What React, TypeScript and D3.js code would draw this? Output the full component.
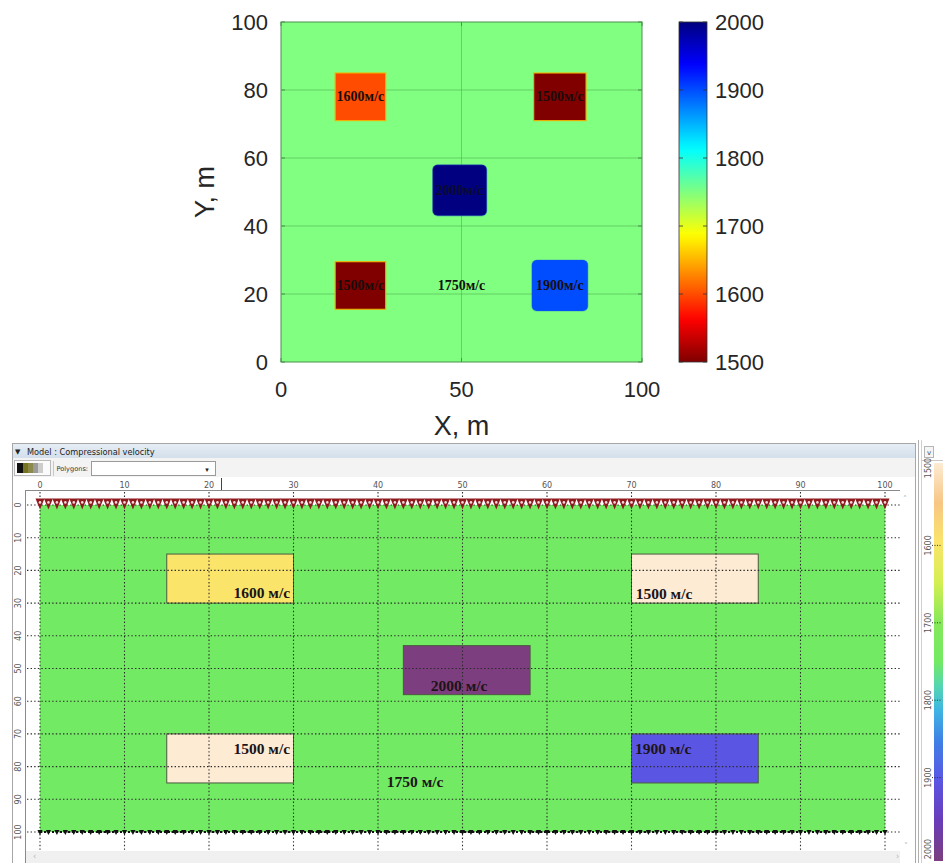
import React from "react";
import * as d3 from "d3";

// ---- shared velocity range (m/s) ----
const VEL_MIN = 1500;
const VEL_MAX = 2000;
const velocityTicks = [1500, 1600, 1700, 1800, 1900, 2000];
const backgroundVelocity = 1750;

// ---- plan-view model (x, y in metres) ----
const mapTicks = [0, 50, 100];
const mapGridY = [20, 40, 60, 80];
const mapBlocks = [
  { v: 1600, x0: 15, x1: 29, y0: 71, y1: 85 },
  { v: 1500, x0: 70, x1: 84.5, y0: 71, y1: 85 },
  { v: 2000, x0: 42, x1: 57, y0: 43, y1: 58 },
  { v: 1500, x0: 15, x1: 29, y0: 15.5, y1: 29.5 },
  { v: 1900, x0: 69.5, x1: 85, y0: 15, y1: 30 },
];
const roundedVelocities = [1900, 2000];
const mapBackgroundLabel = { x: 50, y: 22.5 };

// ---- section model (x, depth in metres) ----
const sectionTicks = [0, 10, 20, 30, 40, 50, 60, 70, 80, 90, 100];
const sectionBlocks = [
  { v: 1600, x0: 15, x1: 30, z0: 15, z1: 30 },
  { v: 1500, x0: 70, x1: 85, z0: 15, z1: 30 },
  { v: 2000, x0: 43, x1: 58, z0: 43, z1: 58 },
  { v: 1500, x0: 15, x1: 30, z0: 70, z1: 85 },
  { v: 1900, x0: 70, x1: 85, z0: 70, z1: 85 },
];
const sectionLabels = [
  { v: 1600, x: 29.6, z: 26.8, anchor: "end" },
  { v: 1500, x: 70.5, z: 27.2, anchor: "start" },
  { v: 2000, x: 49.6, z: 55.3, anchor: "middle" },
  { v: 1500, x: 29.6, z: 74.6, anchor: "end" },
  { v: 1900, x: 70.4, z: 74.4, anchor: "start" },
  { v: 1750, x: 44.4, z: 84.7, anchor: "middle" },
];
const receiverStep = 1; // m between surface receivers
const sectionPaletteStops = [1500, 1550, 1600, 1650, 1700, 1750, 1780, 1810, 1850, 1900, 1950, 2000];
const sectionPaletteColors = [
  "#fdebd4", "#f7c684", "#fbe46a", "#d4ef52", "#86e85a", "#72ea63",
  "#55d6b0", "#3fb6e2", "#3f80e6", "#5b55e3", "#6a3cb8", "#7c3e7e",
];

// jet colormap, t = 0 -> dark blue, t = 1 -> dark red
function jet(t: number): string {
  const c = (v: number) => Math.max(0, Math.min(1, v));
  const r = c(1.5 - Math.abs(4 * t - 3));
  const g = c(1.5 - Math.abs(4 * t - 2));
  const b = c(1.5 - Math.abs(4 * t - 1));
  return d3.rgb(r * 255, g * 255, b * 255).formatHex();
}
const mapColor = (v: number) => jet((VEL_MAX - v) / (VEL_MAX - VEL_MIN));
const sectionColor = d3
  .scaleLinear<string>()
  .domain(sectionPaletteStops)
  .range(sectionPaletteColors)
  .interpolate(d3.interpolateRgb);

const SANS = "'Liberation Sans', Arial, sans-serif";
const SERIF = "'Liberation Serif', 'Times New Roman', serif";
const UI = "'DejaVu Sans', 'Noto Sans', sans-serif";

function PlanView() {
  const x = d3.scaleLinear().domain([0, 100]).range([281, 642]);
  const y = d3.scaleLinear().domain([0, 100]).range([362, 22]);
  const cb = d3.scaleLinear().domain([VEL_MIN, VEL_MAX]).range([362, 22]);
  const cbX0 = 679;
  const cbX1 = 707;
  const gradStops = d3.range(0, 1.0001, 0.02);
  const bgTint = mapColor(backgroundVelocity);
  const frame = "#4f8f4f";
  return (
    <g>
      <defs>
        <linearGradient id="jetBar" x1="0" y1="1" x2="0" y2="0">
          {gradStops.map((t) => (
            <stop key={t} offset={t} stopColor={mapColor(VEL_MIN + t * (VEL_MAX - VEL_MIN))} />
          ))}
        </linearGradient>
      </defs>
      <rect x={x(0)} y={y(100)} width={x(100) - x(0)} height={y(0) - y(100)} fill={bgTint} />
      {mapGridY.map((v) => (
        <line key={"gy" + v} x1={x(0)} x2={x(100)} y1={y(v)} y2={y(v)} stroke="#4faa4f" strokeOpacity={0.55} />
      ))}
      <line x1={x(50)} x2={x(50)} y1={y(0)} y2={y(100)} stroke="#4faa4f" strokeOpacity={0.55} />
      {mapBlocks.map((b, i) => {
        const r = roundedVelocities.includes(b.v) ? 5 : 0;
        const edge = b.v <= 1600 ? "#f4b400" : "#1c5ad8";
        return (
          <rect
            key={"mb" + i}
            x={x(b.x0)}
            y={y(b.y1)}
            width={x(b.x1) - x(b.x0)}
            height={y(b.y0) - y(b.y1)}
            rx={r}
            fill={mapColor(b.v)}
            stroke={edge}
            strokeOpacity={b.v <= 1600 ? 0.9 : 0.35}
            strokeWidth={1.2}
          />
        );
      })}
      {mapBlocks.map((b, i) => (
        <text
          key={"ml" + i}
          x={x((b.x0 + b.x1) / 2)}
          y={y((b.y0 + b.y1) / 2)}
          textAnchor="middle"
          dominantBaseline="central"
          fontFamily={SERIF}
          fontWeight="bold"
          fontSize={14}
          fill={b.v >= 2000 ? "#0b0b30" : "#1a0c0c"}
        >
          {b.v + "м/с"}
        </text>
      ))}
      <text
        x={x(mapBackgroundLabel.x)}
        y={y(mapBackgroundLabel.y)}
        textAnchor="middle"
        dominantBaseline="central"
        fontFamily={SERIF}
        fontWeight="bold"
        fontSize={14}
        fill="#111"
      >
        {backgroundVelocity + "м/с"}
      </text>
      {/* axes frame and inward ticks */}
      <rect x={x(0)} y={y(100)} width={x(100) - x(0)} height={y(0) - y(100)} fill="none" stroke={frame} strokeWidth={1} />
      {mapTicks.map((v) => (
        <g key={"xt" + v}>
          <line x1={x(v)} x2={x(v)} y1={y(0)} y2={y(0) - 4} stroke={frame} />
          <line x1={x(v)} x2={x(v)} y1={y(100)} y2={y(100) + 4} stroke={frame} />
          <text x={x(v)} y={389} textAnchor="middle" dominantBaseline="central" fontFamily={SANS} fontSize={22} fill="#262626">
            {v}
          </text>
        </g>
      ))}
      {[0, ...mapGridY, 100].map((v) => (
        <g key={"yt" + v}>
          <line x1={x(0)} x2={x(0) + 4} y1={y(v)} y2={y(v)} stroke={frame} />
          <line x1={x(100)} x2={x(100) - 4} y1={y(v)} y2={y(v)} stroke={frame} />
          <text x={268} y={y(v)} textAnchor="end" dominantBaseline="central" fontFamily={SANS} fontSize={22} fill="#262626">
            {v}
          </text>
        </g>
      ))}
      <text x={x(50)} y={426} textAnchor="middle" dominantBaseline="central" fontFamily={SANS} fontSize={27} fill="#262626">
        X, m
      </text>
      <text
        transform={`translate(205,${y(50)}) rotate(-90)`}
        textAnchor="middle"
        dominantBaseline="central"
        fontFamily={SANS}
        fontSize={27}
        fill="#262626"
      >
        Y, m
      </text>
      {/* colour bar */}
      <rect x={cbX0} y={cb(VEL_MAX)} width={cbX1 - cbX0} height={cb(VEL_MIN) - cb(VEL_MAX)} fill="url(#jetBar)" stroke="#333" strokeWidth={0.8} />
      {velocityTicks.map((v) => (
        <g key={"ct" + v}>
          <line x1={cbX0} x2={cbX0 + 4} y1={cb(v)} y2={cb(v)} stroke="#333" strokeWidth={0.8} />
          <line x1={cbX1} x2={cbX1 - 4} y1={cb(v)} y2={cb(v)} stroke="#333" strokeWidth={0.8} />
          <text x={715} y={cb(v)} dominantBaseline="central" fontFamily={SANS} fontSize={22} fill="#262626">
            {v}
          </text>
        </g>
      ))}
    </g>
  );
}

function SectionView() {
  const x = d3.scaleLinear().domain([0, 100]).range([40, 885]);
  const z = d3.scaleLinear().domain([0, 100]).range([505, 832]);
  const cb = d3.scaleLinear().domain([VEL_MIN, VEL_MAX]).range([468, 855]);
  const receivers = d3.range(0, 100 + receiverStep / 2, receiverStep);
  const gradStops = d3.range(0, 1.0001, 0.02);
  const dotted = "1.4 2.2";
  return (
    <g>
      <defs>
        <linearGradient id="sectionBar" x1="0" y1="0" x2="0" y2="1">
          {gradStops.map((t) => (
            <stop key={t} offset={t} stopColor={sectionColor(VEL_MIN + t * (VEL_MAX - VEL_MIN))} />
          ))}
        </linearGradient>
        <linearGradient id="titleBar" x1="0" y1="0" x2="0" y2="1">
          <stop offset={0} stopColor="#e6edf5" />
          <stop offset={1} stopColor="#d3dfeb" />
        </linearGradient>
      </defs>
      {/* window chrome */}
      <rect x={12.5} y={443.5} width={903} height={430} fill="#ffffff" stroke="#a7a7a7" />
      <rect x={13} y={444} width={902} height={14} fill="url(#titleBar)" />
      <text x={15} y={454} fontFamily={UI} fontSize={7} fill="#222">▼</text>
      <text x={27} y={454.5} fontFamily={UI} fontSize={8.2} fill="#222">
        Model : Compressional velocity
      </text>
      <rect x={13} y={458} width={902} height={19} fill="#f3f3f3" />
      <rect x={14.5} y={460.5} width={36} height={15} fill="#fbfbfb" stroke="#b9b9b9" />
      <rect x={17} y={463} width={6} height={10} fill="#111" />
      <rect x={23} y={463} width={5} height={10} fill="#77741f" />
      <rect x={28} y={463} width={5} height={10} fill="#8c8a4a" />
      <rect x={33} y={463} width={5} height={10} fill="#9b9b9b" />
      <rect x={38} y={463} width={5} height={10} fill="#cdcdcd" />
      <line x1={53.5} x2={53.5} y1={461} y2={476} stroke="#c8c8c8" />
      <text x={56.5} y={471} fontFamily={UI} fontSize={6.6} fill="#333">Polygons:</text>
      <rect x={91.5} y={461.5} width={124} height={14} fill="#fff" stroke="#9a9a9a" />
      <text x={207} y={471.5} fontFamily={UI} fontSize={7} textAnchor="middle" fill="#222">▾</text>

      {/* model body */}
      <rect x={x(0)} y={z(0)} width={x(100) - x(0)} height={z(100) - z(0)} fill={sectionColor(backgroundVelocity)} />
      {sectionBlocks.map((b, i) => (
        <rect
          key={"sb" + i}
          x={x(b.x0)}
          y={z(b.z0)}
          width={x(b.x1) - x(b.x0)}
          height={z(b.z1) - z(b.z0)}
          fill={sectionColor(b.v)}
          stroke="#4b5a40"
          strokeWidth={1}
        />
      ))}
      {/* dotted grid */}
      {sectionTicks.map((v) => (
        <line key={"gx" + v} x1={x(v)} x2={x(v)} y1={492} y2={851} stroke="#2a2a2a" strokeWidth={1.1} strokeDasharray={dotted} />
      ))}
      {sectionTicks.map((v) => (
        <line key={"gz" + v} x1={27} x2={900} y1={z(v)} y2={z(v)} stroke="#2a2a2a" strokeWidth={1.1} strokeDasharray={dotted} />
      ))}
      {/* axes */}
      <line x1={25} x2={900} y1={490.5} y2={490.5} stroke="#8a8a8a" />
      <line x1={25.5} x2={25.5} y1={490} y2={863} stroke="#8a8a8a" />
      <line x1={221.5} x2={221.5} y1={478} y2={490} stroke="#444" />
      {sectionTicks.map((v) => (
        <text key={"tx" + v} x={x(v)} y={485} textAnchor="middle" fontFamily={UI} fontSize={8} fill="#555" dominantBaseline="central">
          {v}
        </text>
      ))}
      {sectionTicks.map((v) => (
        <text
          key={"tz" + v}
          transform={`translate(18.5,${z(v)}) rotate(-90)`}
          textAnchor="middle"
          dominantBaseline="central"
          fontFamily={UI}
          fontSize={8}
          fill="#555"
        >
          {v}
        </text>
      ))}
      {/* labels */}
      {sectionLabels.map((l, i) => (
        <text
          key={"sl" + i}
          x={x(l.x)}
          y={z(l.z)}
          textAnchor={l.anchor as any}
          dominantBaseline="central"
          fontFamily={SERIF}
          fontWeight="bold"
          fontSize={15.5}
          fill="#1c1418"
        >
          {l.v + " м/с"}
        </text>
      ))}
      {/* surface receivers */}
      {receivers.map((r) => (
        <g key={"rc" + r}>
          <path d={`M${x(r) - 4.5},498.5 L${x(r) + 4.5},498.5 L${x(r)},509.5 Z`} fill="#8e1a1e" />
          <circle cx={x(r)} cy={502.4} r={1.3} fill="#f2d9d9" />
        </g>
      ))}
      {/* bottom boundary */}
      <line x1={x(0)} x2={x(100)} y1={z(100)} y2={z(100)} stroke="#111" strokeWidth={2} strokeDasharray="2 2" />
      {receivers.map((r) => (
        <path key={"bb" + r} d={`M${x(r) - 2.6},830 L${x(r) + 2.6},830 L${x(r)},835 Z`} fill="#111" />
      ))}
      {/* scroll bars */}
      <rect x={26} y={851} width={874} height={12} fill="#f0f0f0" />
      <text x={33} y={859} fontFamily={UI} fontSize={8} fill="#b5b5b5">‹</text>
      <text x={896} y={859} fontFamily={UI} fontSize={8} fill="#b5b5b5">›</text>
      <text x={905} y={502} fontFamily={UI} fontSize={8} fill="#b5b5b5" textAnchor="middle">˄</text>
      <text x={906} y={849} fontFamily={UI} fontSize={8} fill="#b5b5b5" textAnchor="middle">˅</text>

      {/* colour scale panel */}
      <line x1={918.5} x2={918.5} y1={440} y2={863} stroke="#b0b0b0" />
      <line x1={921.5} x2={921.5} y1={440} y2={863} stroke="#d0d0d0" />
      <rect x={924.5} y={446.5} width={9} height={11} fill="#f5f5f5" stroke="#b5b5b5" />
      <text x={929} y={455} fontFamily={UI} fontSize={7} fill="#444" textAnchor="middle">v</text>
      <rect x={922} y={460} width={21} height={403} fill="#ffffff" />
      <line x1={922} x2={943} y1={460.5} y2={460.5} stroke="#c8c8c8" />
      <rect x={934} y={463} width={9} height={398} fill="url(#sectionBar)" />
      {velocityTicks.map((v) => (
        <g key={"sc" + v}>
          {v > VEL_MIN && v < VEL_MAX && (
            <line x1={932} x2={941} y1={cb(v)} y2={cb(v)} stroke="#333" strokeDasharray="1 1.5" />
          )}
          <text
            transform={`translate(928.5,${Math.min(cb(v), 849)}) rotate(-90)`}
            textAnchor="middle"
            dominantBaseline="central"
            fontFamily={UI}
            fontSize={8}
            fill="#555"
          >
            {v}
          </text>
        </g>
      ))}
    </g>
  );
}

export default function App() {
  return (
    <div style={{ position: "absolute", left: 0, top: 0, width: 943, height: 863, background: "#fff" }}>
      <svg width={943} height={863} viewBox="0 0 943 863" style={{ display: "block" }}>
        <rect width={943} height={863} fill="#fff" />
        <PlanView />
        <SectionView />
      </svg>
    </div>
  );
}
